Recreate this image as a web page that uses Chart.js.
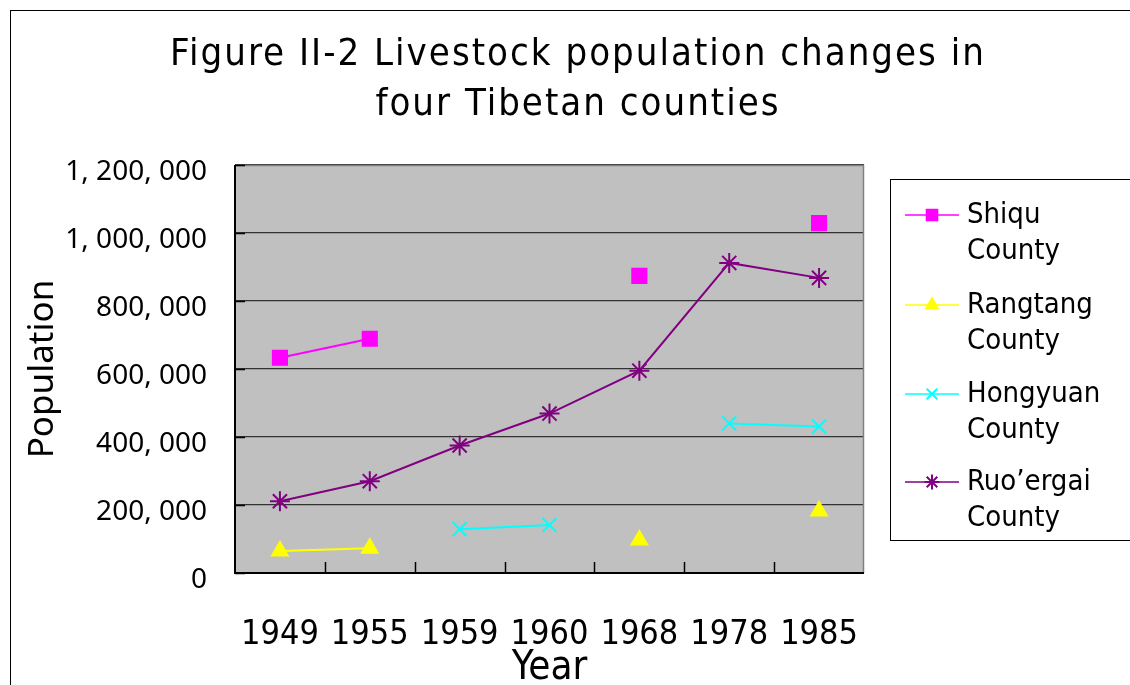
<!DOCTYPE html>
<html>
<head>
<meta charset="utf-8">
<script src="https://cdn.jsdelivr.net/npm/chart.js@4"></script>
<style>
  html, body { margin: 0; padding: 0; background: #fff; }
  #wrap { width: 1130px; height: 685px; position: relative; }
</style>
</head>
<body>
<div id="wrap"><canvas id="livestockChart" width="1130" height="685"></canvas></div>
<script>
// values
const years = ["1949", "1955", "1959", "1960", "1968", "1978", "1985"];
const shiqu = [633000, 689000, null, null, 874000, null, 1029000];
const rangtang = [65000, 73000, null, null, 97000, null, 182000];
const hongyuan = [null, null, 129000, 141000, null, 440000, 431000];
const ruoergai = [211000, 270000, 375000, 469000, 595000, 912000, 868000];
const yTicks = [0, 200000, 400000, 600000, 800000, 1000000, 1200000];
const titleLines = ["Figure II-2 Livestock population changes in", "four Tibetan counties"];
const legendNames = ["Shiqu", "Rangtang", "Hongyuan", "Ruo\u2019ergai"];

const narrow = "'Liberation Sans Narrow', 'DejaVu Sans Condensed', 'Liberation Sans', sans-serif";
const plain = "'Noto Sans', 'Open Sans', sans-serif";

// grey plot area, outer frame, inside tick marks, title and legend
const decor = {
  id: "decor",
  beforeDraw(chart) {
    const ctx = chart.ctx, a = chart.chartArea;
    ctx.save();
    ctx.fillStyle = "#fff";
    ctx.fillRect(0, 0, chart.width, chart.height);
    ctx.fillStyle = "#c0c0c0";
    ctx.fillRect(a.left, a.top, a.right - a.left, a.bottom - a.top);
    ctx.strokeStyle = "#000";
    ctx.lineWidth = 1;
    ctx.strokeRect(10.5, 10.5, chart.width + 20, chart.height + 20);
    ctx.restore();
  },
  afterDatasetsDraw(chart) {
    const ctx = chart.ctx, a = chart.chartArea;
    const x = chart.scales.x, y = chart.scales.y;
    ctx.save();
    // border of plot area
    ctx.strokeStyle = "#808080";
    ctx.lineWidth = 1.5;
    ctx.beginPath();
    ctx.moveTo(a.left, a.top + 0.5);
    ctx.lineTo(a.right - 0.5, a.top + 0.5);
    ctx.lineTo(a.right - 0.5, a.bottom);
    ctx.stroke();
    ctx.strokeStyle = "#000";
    ctx.lineWidth = 2;
    ctx.beginPath();
    ctx.moveTo(a.left, a.top);
    ctx.lineTo(a.left, a.bottom);
    ctx.lineTo(a.right, a.bottom);
    ctx.stroke();
    // ticks
    ctx.lineWidth = 1.5;
    ctx.beginPath();
    yTicks.forEach(v => {
      const py = Math.round(y.getPixelForValue(v)) + 0.5;
      ctx.moveTo(a.left, py);
      ctx.lineTo(a.left + 10, py);
    });
    for (let i = 1; i < years.length; i++) {
      const px = Math.round((x.getPixelForValue(i - 1) + x.getPixelForValue(i)) / 2) + 0.5;
      ctx.moveTo(px, a.bottom);
      ctx.lineTo(px, a.bottom - 11);
    }
    ctx.stroke();
    ctx.restore();
  },
  afterDraw(chart) {
    const ctx = chart.ctx;
    ctx.save();
    // title
    ctx.fillStyle = "#000";
    ctx.textAlign = "center";
    ctx.textBaseline = "middle";
    ctx.font = "38px " + narrow;
    ctx.letterSpacing = "2px";
    ctx.fillText(titleLines[0], 578, 55);
    ctx.fillText(titleLines[1], 578, 105);
    ctx.letterSpacing = "0px";
    // legend
    ctx.strokeStyle = "#000";
    ctx.lineWidth = 1;
    ctx.strokeRect(890.5, 179.5, 300, 361);
    const rows = [215, 305, 394, 482];
    ctx.textAlign = "left";
    ctx.font = "29px " + narrow;
    chart.data.datasets.forEach((ds, i) => {
      const ry = rows[i];
      ctx.strokeStyle = ds.borderColor;
      ctx.lineWidth = 1.5;
      ctx.beginPath();
      ctx.moveTo(905, ry);
      ctx.lineTo(959, ry);
      ctx.stroke();
      ctx.fillStyle = ds.pointBackgroundColor;
      ctx.strokeStyle = ds.pointBorderColor;
      ctx.lineWidth = ds.pointBorderWidth;
      Chart.helpers.drawPoint(ctx, {
        pointStyle: ds.pointStyle, radius: ds.pointRadius * 0.75, rotation: 0, borderWidth: ds.pointBorderWidth
      }, 932, ry);
      ctx.fillStyle = "#000";
      ctx.fillText(legendNames[i], 967, ry);
      ctx.fillText("County", 967, ry + 36);
    });
    ctx.restore();
  }
};

function series(label, data, color, style, radius) {
  return {
    label: label,
    data: data,
    borderColor: color,
    backgroundColor: color,
    borderWidth: 2,
    pointStyle: style,
    pointRadius: radius,
    pointBackgroundColor: color,
    pointBorderColor: color,
    pointBorderWidth: 2,
    spanGaps: false,
    tension: 0
  };
}

new Chart(document.getElementById("livestockChart"), {
  type: "line",
  data: {
    labels: years,
    datasets: [
      series("Shiqu County", shiqu, "#ff00ff", "rect", 10),
      series("Rangtang County", rangtang, "#ffff00", "triangle", 9),
      series("Hongyuan County", hongyuan, "#00ffff", "crossRot", 10),
      series("Ruo\u2019ergai County", ruoergai, "#800080", "star", 10)
    ]
  },
  options: {
    responsive: false,
    animation: false,
    layout: { padding: { top: 165, right: 266, left: 0, bottom: 0 } },
    plugins: {
      legend: { display: false },
      title: { display: false },
      tooltip: { enabled: false }
    },
    scales: {
      x: {
        offset: true,
        grid: { display: false },
        border: { display: false },
        ticks: { color: "#000", font: { family: narrow, size: 34 }, padding: 34, maxRotation: 0 },
        title: { display: true, text: "Year", color: "#000", font: { family: narrow, size: 40 }, padding: { top: 0, bottom: -8 } },
        afterFit(s) { s.height = 112; }
      },
      y: {
        min: 0,
        max: 1200000,
        afterBuildTicks(s) { s.ticks = yTicks.map(v => ({ value: v })); },
        grid: { color: "#333", lineWidth: 1.2, drawTicks: false },
        border: { display: false },
        ticks: {
          color: "#000",
          font: { family: plain, size: 28 },
          padding: 28,
          labelOffset: 7,
          callback: v => v.toLocaleString("en-US").replace(/,/g, ", ")
        },
        title: { display: true, text: "Population", color: "#000", font: { family: plain, size: 35 }, padding: { top: 22, bottom: 0 } },
        afterFit(s) { s.width = 235; }
      }
    }
  },
  plugins: [decor]
});
</script>
</body>
</html>
